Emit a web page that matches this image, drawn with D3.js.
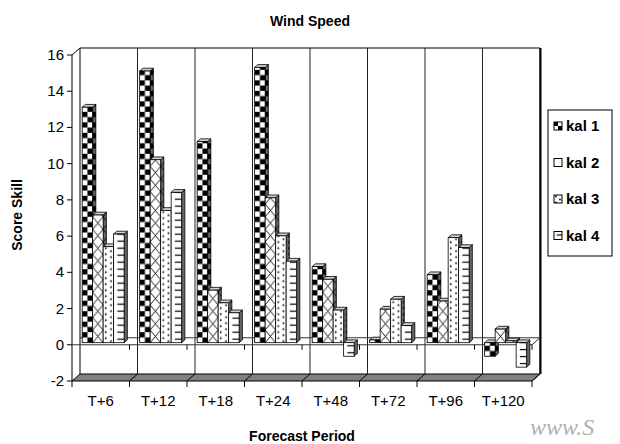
<!DOCTYPE html>
<meta charset="utf-8">
<style>
body{ margin:0; background-color:white; }
text{ font-family:"Liberation Sans", Arial, sans-serif; }
</style>
<body>
<svg class="chart"></svg>
<script src="https://cdn.jsdelivr.net/npm/d3@7"></script>
<script>
// chart data
var categories = ["T+6","T+12","T+18","T+24","T+48","T+72","T+96","T+120"];
var seriesNames = ["kal 1","kal 2","kal 3","kal 4"];
var kal1 = [13.0, 15.0, 11.1, 15.2, 4.2, 0.15, 3.75, -0.75];
var kal2 = [7.05, 10.1, 2.9, 8.0, 3.5, 1.85, 2.3, 0.75];
var kal3 = [5.3, 7.3, 2.2, 5.9, 1.8, 2.4, 5.8, 0.1];
var kal4 = [6.0, 8.3, 1.65, 4.5, -0.75, 0.95, 5.25, -1.35];
var yTicks = [-2,0,2,4,6,8,10,12,14,16];
var series = [kal1, kal2, kal3, kal4];
</script>
<script>
var svg = d3.select("svg").attr("width",620).attr("height",444);
var defs = svg.append("defs");

// front plane of the plot and depth offset of the 3d box
var x0 = 72, x1 = 532;
var dx = 8, dy = -7;
var fd = 0.3, bd = 0.7;   // bar depth, front and back fraction

var x = d3.scaleBand().domain(categories).range([x0, x1]);
var xs = d3.scaleBand().domain(seriesNames)
  .range([0, x.bandwidth()]).paddingOuter(0.74);
var y = d3.scaleLinear().domain([-2,16]).range([381,55]);

function pts (a) { return a.map(function (p) { return p.join(","); }).join(" "); }

// back wall
svg.append("rect").attr("x",x0+dx).attr("y",y(16)+dy)
  .attr("width",x1-x0).attr("height",y(-2)-y(16)).attr("fill","white");

// floor at -2
svg.append("polygon")
  .attr("points", pts([[x0,y(-2)],[x1,y(-2)],[x1+dx,y(-2)+dy],[x0+dx,y(-2)+dy]]))
  .attr("fill","#808080").attr("stroke","black").attr("stroke-width",1);

// category gridlines on back wall and floor
var bounds = categories.map(function (c) { return x(c); }).concat([x1]);
svg.selectAll(".grid").data(bounds.slice(1,-1)).enter().append("line")
  .attr("x1",function (d) { return d+dx; }).attr("x2",function (d) { return d+dx; })
  .attr("y1",y(16)+dy).attr("y2",y(-2)+dy)
  .attr("stroke","#222").attr("stroke-width",1);
svg.selectAll(".fgrid").data(bounds.slice(1,-1)).enter().append("line")
  .attr("x1",function (d) { return d; }).attr("y1",y(-2))
  .attr("x2",function (d) { return d+dx; }).attr("y2",y(-2)+dy)
  .attr("stroke","black").attr("stroke-width",1);

// walls outline
svg.append("polyline")
  .attr("points", pts([[x0,y(-2)],[x0,y(16)],[x0+dx,y(16)+dy],[x1+dx,y(16)+dy],[x1+dx,y(-2)+dy],[x1,y(-2)]]))
  .attr("fill","none").attr("stroke","black").attr("stroke-width",1);
svg.append("line").attr("x1",x0+dx).attr("x2",x0+dx)
  .attr("y1",y(16)+dy).attr("y2",y(-2)+dy).attr("stroke","black");
svg.append("line").attr("x1",x1+dx+0.5).attr("x2",x1+dx+0.5)
  .attr("y1",y(16)+dy).attr("y2",y(-2)+dy).attr("stroke","black").attr("stroke-width",2);

// zero plane
svg.append("polyline")
  .attr("points", pts([[x0+dx,y(0)+dy],[x1+dx,y(0)+dy],[x1,y(0)],[x0,y(0)]]))
  .attr("fill","none").attr("stroke","#333").attr("stroke-width",1);
svg.selectAll(".ztick").data(bounds.slice(1)).enter().append("line")
  .attr("x1",function (d) { return d; }).attr("x2",function (d) { return d; })
  .attr("y1",y(0)).attr("y2",y(0)+5).attr("stroke","black");

// value axis
svg.selectAll(".ytick").data(yTicks).enter().append("line")
  .attr("x1",x0-5).attr("x2",x0)
  .attr("y1",function (d) { return y(d); }).attr("y2",function (d) { return y(d); })
  .attr("stroke","black");
svg.selectAll(".ylab").data(yTicks).enter().append("text")
  .attr("x",x0-8).attr("y",function (d) { return y(d)+5; })
  .attr("text-anchor","end").attr("font-size","15px").text(function (d) { return d; });

// category axis under the floor
svg.selectAll(".xtick").data(bounds).enter().append("line")
  .attr("x1",function (d) { return d; }).attr("x2",function (d) { return d; })
  .attr("y1",y(-2)).attr("y2",y(-2)+6).attr("stroke","black");
svg.selectAll(".xlab").data(categories).enter().append("text")
  .attr("x",function (d) { return x(d)+x.bandwidth()/2; }).attr("y",406)
  .attr("text-anchor","middle").attr("font-size","15px").text(function (d) { return d; });

// patterns, one per bar so they line up with the bar edges
function fillPattern (p, k, w) {
  p.append("rect").attr("width",w).attr("height",40).attr("fill","white");
  if (k == 0) {
    var c = w/2;
    p.append("rect").attr("width",c).attr("height",c).attr("fill","black");
    p.append("rect").attr("x",c).attr("y",c).attr("width",w-c).attr("height",c).attr("fill","black");
  } else if (k == 1) {
    p.append("path").attr("d","M0,0L"+w+","+(w*1.2)+"M"+w+",0L0,"+(w*1.2))
      .attr("stroke","black").attr("stroke-width",0.9).attr("fill","none");
  } else if (k == 2) {
    p.append("circle").attr("cx",w*0.25).attr("cy",1.5).attr("r",0.9).attr("fill","black");
    p.append("circle").attr("cx",w*0.75).attr("cy",4.5).attr("r",0.9).attr("fill","black");
  } else {
    p.append("line").attr("x1",w*0.35).attr("x2",w).attr("y1",3.5).attr("y2",3.5)
      .attr("stroke","black").attr("stroke-width",1.2);
  }
}
function patternHeight (k, w) {
  if (k == 0) return w;
  if (k == 1) return w*1.2;
  if (k == 2) return 6;
  return 7;
}

var bars = [];
categories.forEach(function (c, ci) {
  series.forEach(function (s, k) {
    bars.push({cat: c, k: k, v: s[ci]});
  });
});

var bw = xs.bandwidth();
var fdx = dx*fd, fdy = dy*fd, ddx = dx*(bd-fd), ddy = dy*(bd-fd);

bars.forEach(function (d, i) {
  d.x = x(d.cat) + xs(seriesNames[d.k]) + fdx;
  d.yt = y(Math.max(d.v,0)) + fdy;
  d.yb = y(Math.min(d.v,0)) + fdy;
  var ph = patternHeight(d.k, bw);
  var p = defs.append("pattern").attr("id","p"+i)
    .attr("patternUnits","userSpaceOnUse")
    .attr("x",d.x).attr("y",d.yb)
    .attr("width",bw).attr("height",ph);
  fillPattern(p, d.k, bw);
});

var g = svg.append("g");
bars.forEach(function (d, i) {
  var top = [[d.x,d.yt],[d.x+ddx,d.yt+ddy],[d.x+bw+ddx,d.yt+ddy],[d.x+bw,d.yt]];
  var side = [[d.x+bw,d.yt],[d.x+bw+ddx,d.yt+ddy],[d.x+bw+ddx,d.yb+ddy],[d.x+bw,d.yb]];
  g.append("polygon").attr("points",pts(side)).attr("fill","url(#p"+i+")");
  g.append("polygon").attr("points",pts(side)).attr("fill","black").attr("fill-opacity",0.6)
    .attr("stroke","black").attr("stroke-width",0.8);
  g.append("polygon").attr("points",pts(top)).attr("fill","#d0d0d0")
    .attr("stroke","black").attr("stroke-width",0.8);
  g.append("rect").attr("x",d.x).attr("y",d.yt)
    .attr("width",bw).attr("height",Math.max(d.yb-d.yt,0.5))
    .attr("fill","url(#p"+i+")").attr("stroke","black").attr("stroke-width",0.8);
});

// legend
var lx = 548, ly = 110;
svg.append("rect").attr("x",lx).attr("y",ly).attr("width",64).attr("height",146)
  .attr("fill","white").attr("stroke","black").attr("stroke-width",1);
seriesNames.forEach(function (n, k) {
  var yy = ly + 21 + k*36.5;
  var p = defs.append("pattern").attr("id","lp"+k)
    .attr("patternUnits","userSpaceOnUse").attr("x",lx+6).attr("y",yy-9)
    .attr("width",8).attr("height",patternHeight(k,8));
  if (k != 1) fillPattern(p, k, 8);
  else p.append("rect").attr("width",8).attr("height",10).attr("fill","white");
  svg.append("rect").attr("x",lx+6).attr("y",yy-9).attr("width",8).attr("height",8)
    .attr("fill","url(#lp"+k+")").attr("stroke","black").attr("stroke-width",1);
  svg.append("text").attr("x",lx+18).attr("y",yy)
    .attr("font-size","15px").attr("font-weight","bold").text(n);
});

// titles
svg.append("text").attr("x",310).attr("y",26).attr("text-anchor","middle")
  .attr("font-size","14px").attr("font-weight","bold").text("Wind Speed");
svg.append("text").attr("x",302).attr("y",441).attr("text-anchor","middle")
  .attr("font-size","14px").attr("font-weight","bold").text("Forecast Period");
svg.append("text").attr("transform","translate(22,215) rotate(-90)").attr("text-anchor","middle")
  .attr("font-size","14px").attr("font-weight","bold").text("Score Skill");

// watermark in the lower right corner
svg.append("text").attr("x",530).attr("y",435)
  .style("font-family","'Liberation Serif', serif").attr("font-style","italic")
  .attr("font-size","24px").attr("fill","#b0b0b0").text("www.S");
</script>
</body>
</html>
